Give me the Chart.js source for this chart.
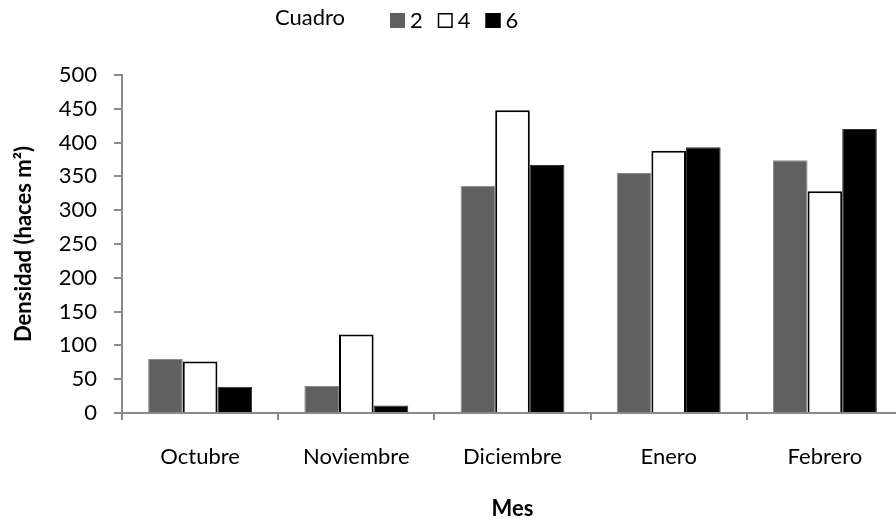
<!DOCTYPE html>
<html>
<head>
<meta charset="utf-8">
<script src="https://cdn.jsdelivr.net/npm/chart.js@4.4.1/dist/chart.umd.min.js"></script>
<style>
  html, body { margin: 0; padding: 0; background: #fff; overflow: hidden; }
  #wrap { width: 910px; height: 522px; }
</style>
</head>
<body>
<div id="wrap"><canvas id="densChart"></canvas></div>
<script>
// Data
const meses = ['Octubre', 'Noviembre', 'Diciembre', 'Enero', 'Febrero'];
const cuadros = ['2', '4', '6'];
const cuadro2 = [80, 40, 336, 355, 374];
const cuadro4 = [76, 116, 448, 388, 328];
const cuadro6 = [39, 11, 367, 393, 420];

const FONT = 'Lato, "Open Sans", sans-serif';
const axisGray = '#8a8a8a';

// legend drawn in one line: "Cuadro  ■ 2  □ 4  ■ 6"
const legendLine = {
    id: 'legendLine',
    afterDraw(chart) {
        const c = chart.ctx;
        c.save();
        c.font = '22px ' + FONT;
        c.fillStyle = '#000';
        c.textBaseline = 'middle';
        c.fillText('Cuadro', 275, 18);
        let x = 390;
        chart.data.datasets.forEach(ds => {
            c.fillStyle = ds.backgroundColor;
            c.fillRect(x, 13, 15, 15);
            c.lineWidth = 1.5;
            c.strokeStyle = ds.backgroundColor === '#ffffff' ? '#000' : ds.backgroundColor;
            c.strokeRect(x + 0.75, 13.75, 13.5, 13.5);
            c.fillStyle = '#000';
            c.fillText(ds.label, x + 20, 21);
            x += 20 + c.measureText(ds.label).width + 15;
        });
        c.restore();
    }
};

const ctxDens = document.getElementById('densChart').getContext('2d');
const densChart = new Chart(ctxDens, {
    type: 'bar',
    data: {
        labels: meses,
        datasets: [
            { label: cuadros[0], data: cuadro2, backgroundColor: '#606060', borderColor: '#8c8c8c', borderWidth: 1 },
            { label: cuadros[1], data: cuadro4, backgroundColor: '#ffffff', borderColor: '#000000', borderWidth: 2 },
            { label: cuadros[2], data: cuadro6, backgroundColor: '#000000', borderColor: '#333333', borderWidth: 1 }
        ]
    },
    options: {
        responsive: true,
        maintainAspectRatio: false,
        animation: false,
        layout: { padding: { top: 75, right: 7, bottom: 0, left: 0 } },
        categoryPercentage: 0.665,
        barPercentage: 1.0,
        scales: {
            x: {
                offset: true,
                grid: { display: true, drawOnChartArea: false, offset: true, tickLength: 7, color: axisGray, lineWidth: 2 },
                border: { color: axisGray, width: 2 },
                ticks: { color: '#000', padding: 24, font: { family: FONT, size: 22 }, maxRotation: 0 },
                title: { display: true, text: 'Mes', color: '#000', font: { family: FONT, size: 22, weight: 'bold' }, padding: { top: 0, bottom: 0 } },
                afterFit(scale) { scale.height = 109; }
            },
            y: {
                min: 0,
                max: 500,
                ticks: { stepSize: 50, color: '#000', padding: 17, font: { family: FONT, size: 22 } },
                grid: { display: true, drawOnChartArea: false, tickLength: 8, color: axisGray, lineWidth: 2 },
                border: { color: axisGray, width: 2 },
                title: { display: true, text: 'Densidad (haces m²)', color: '#000', font: { family: FONT, size: 22, weight: 'bold' }, padding: { top: 11, bottom: 0 } },
                afterFit(scale) { scale.width = 122; }
            }
        },
        plugins: {
            legend: { display: false },
            tooltip: { enabled: false }
        }
    },
    plugins: [legendLine]
});
</script>
</body>
</html>
